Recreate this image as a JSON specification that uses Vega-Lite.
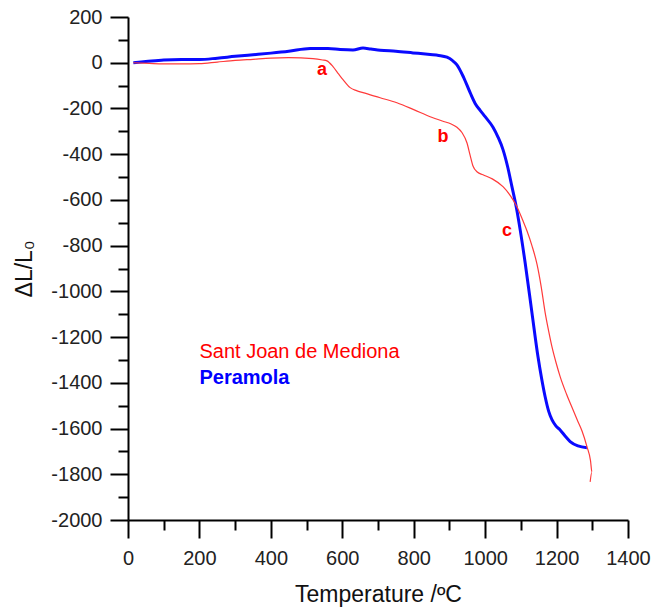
{
  "$schema": "https://vega.github.io/schema/vega-lite/v6.json",
  "width": 500,
  "height": 503,
  "autosize": {"type": "none"},
  "padding": {"left": 128, "top": 17, "right": 24, "bottom": 92},
  "background": "white",
  "config": {
    "view": {"stroke": null},
    "font": "Liberation Sans",
    "axis": {
      "grid": false,
      "domainColor": "black",
      "domainWidth": 2,
      "tickColor": "black",
      "tickWidth": 2,
      "labelFont": "Liberation Sans",
      "labelFontSize": 20,
      "labelColor": "#222222",
      "titleFont": "Liberation Sans",
      "titleFontSize": 23,
      "titleFontWeight": "normal",
      "titleColor": "#111111",
      "labelOverlap": false,
      "labelFlush": false
    }
  },
  "datasets": {
    "curves": [
      {"series": "Peramola", "i": 0, "T": 15, "dL": 0},
      {"series": "Peramola", "i": 1, "T": 50, "dL": 5},
      {"series": "Peramola", "i": 2, "T": 100, "dL": 12},
      {"series": "Peramola", "i": 3, "T": 150, "dL": 14},
      {"series": "Peramola", "i": 4, "T": 200, "dL": 14},
      {"series": "Peramola", "i": 5, "T": 250, "dL": 20},
      {"series": "Peramola", "i": 6, "T": 300, "dL": 28},
      {"series": "Peramola", "i": 7, "T": 350, "dL": 35},
      {"series": "Peramola", "i": 8, "T": 400, "dL": 42},
      {"series": "Peramola", "i": 9, "T": 450, "dL": 50},
      {"series": "Peramola", "i": 10, "T": 510, "dL": 62},
      {"series": "Peramola", "i": 11, "T": 560, "dL": 62},
      {"series": "Peramola", "i": 12, "T": 594, "dL": 58},
      {"series": "Peramola", "i": 13, "T": 630, "dL": 56},
      {"series": "Peramola", "i": 14, "T": 658, "dL": 64},
      {"series": "Peramola", "i": 15, "T": 680, "dL": 60},
      {"series": "Peramola", "i": 16, "T": 706, "dL": 55},
      {"series": "Peramola", "i": 17, "T": 750, "dL": 50},
      {"series": "Peramola", "i": 18, "T": 798, "dL": 43},
      {"series": "Peramola", "i": 19, "T": 846, "dL": 36},
      {"series": "Peramola", "i": 20, "T": 870, "dL": 32},
      {"series": "Peramola", "i": 21, "T": 893, "dL": 24},
      {"series": "Peramola", "i": 22, "T": 908, "dL": 10},
      {"series": "Peramola", "i": 23, "T": 921, "dL": -9},
      {"series": "Peramola", "i": 24, "T": 940, "dL": -65},
      {"series": "Peramola", "i": 25, "T": 958, "dL": -131},
      {"series": "Peramola", "i": 26, "T": 972, "dL": -178},
      {"series": "Peramola", "i": 27, "T": 986, "dL": -208},
      {"series": "Peramola", "i": 28, "T": 1000, "dL": -236},
      {"series": "Peramola", "i": 29, "T": 1022, "dL": -282},
      {"series": "Peramola", "i": 30, "T": 1036, "dL": -325},
      {"series": "Peramola", "i": 31, "T": 1050, "dL": -380},
      {"series": "Peramola", "i": 32, "T": 1063, "dL": -455},
      {"series": "Peramola", "i": 33, "T": 1075, "dL": -542},
      {"series": "Peramola", "i": 34, "T": 1087, "dL": -630},
      {"series": "Peramola", "i": 35, "T": 1098, "dL": -730},
      {"series": "Peramola", "i": 36, "T": 1112, "dL": -875},
      {"series": "Peramola", "i": 37, "T": 1131, "dL": -1093},
      {"series": "Peramola", "i": 38, "T": 1148, "dL": -1286},
      {"series": "Peramola", "i": 39, "T": 1158, "dL": -1380},
      {"series": "Peramola", "i": 40, "T": 1168, "dL": -1461},
      {"series": "Peramola", "i": 41, "T": 1178, "dL": -1525},
      {"series": "Peramola", "i": 42, "T": 1187, "dL": -1561},
      {"series": "Peramola", "i": 43, "T": 1198, "dL": -1588},
      {"series": "Peramola", "i": 44, "T": 1210, "dL": -1606},
      {"series": "Peramola", "i": 45, "T": 1225, "dL": -1635},
      {"series": "Peramola", "i": 46, "T": 1238, "dL": -1657},
      {"series": "Peramola", "i": 47, "T": 1260, "dL": -1676},
      {"series": "Peramola", "i": 48, "T": 1285, "dL": -1684},
      {"series": "Sant Joan de Mediona", "i": 0, "T": 15, "dL": 0},
      {"series": "Sant Joan de Mediona", "i": 1, "T": 60, "dL": -3},
      {"series": "Sant Joan de Mediona", "i": 2, "T": 100, "dL": -5},
      {"series": "Sant Joan de Mediona", "i": 3, "T": 150, "dL": -5},
      {"series": "Sant Joan de Mediona", "i": 4, "T": 200, "dL": -4},
      {"series": "Sant Joan de Mediona", "i": 5, "T": 250, "dL": 3},
      {"series": "Sant Joan de Mediona", "i": 6, "T": 300, "dL": 10},
      {"series": "Sant Joan de Mediona", "i": 7, "T": 350, "dL": 15},
      {"series": "Sant Joan de Mediona", "i": 8, "T": 400, "dL": 20},
      {"series": "Sant Joan de Mediona", "i": 9, "T": 450, "dL": 22},
      {"series": "Sant Joan de Mediona", "i": 10, "T": 518, "dL": 18},
      {"series": "Sant Joan de Mediona", "i": 11, "T": 545, "dL": 12},
      {"series": "Sant Joan de Mediona", "i": 12, "T": 557, "dL": 8},
      {"series": "Sant Joan de Mediona", "i": 13, "T": 574, "dL": -17},
      {"series": "Sant Joan de Mediona", "i": 14, "T": 590, "dL": -50},
      {"series": "Sant Joan de Mediona", "i": 15, "T": 602, "dL": -74},
      {"series": "Sant Joan de Mediona", "i": 16, "T": 622, "dL": -109},
      {"series": "Sant Joan de Mediona", "i": 17, "T": 640, "dL": -122},
      {"series": "Sant Joan de Mediona", "i": 18, "T": 658, "dL": -131},
      {"series": "Sant Joan de Mediona", "i": 19, "T": 706, "dL": -153},
      {"series": "Sant Joan de Mediona", "i": 20, "T": 753, "dL": -175},
      {"series": "Sant Joan de Mediona", "i": 21, "T": 800, "dL": -205},
      {"series": "Sant Joan de Mediona", "i": 22, "T": 846, "dL": -236},
      {"series": "Sant Joan de Mediona", "i": 23, "T": 880, "dL": -255},
      {"series": "Sant Joan de Mediona", "i": 24, "T": 905, "dL": -268},
      {"series": "Sant Joan de Mediona", "i": 25, "T": 921, "dL": -282},
      {"series": "Sant Joan de Mediona", "i": 26, "T": 935, "dL": -305},
      {"series": "Sant Joan de Mediona", "i": 27, "T": 949, "dL": -350},
      {"series": "Sant Joan de Mediona", "i": 28, "T": 958, "dL": -405},
      {"series": "Sant Joan de Mediona", "i": 29, "T": 966, "dL": -452},
      {"series": "Sant Joan de Mediona", "i": 30, "T": 978, "dL": -478},
      {"series": "Sant Joan de Mediona", "i": 31, "T": 994, "dL": -490},
      {"series": "Sant Joan de Mediona", "i": 32, "T": 1020, "dL": -508},
      {"series": "Sant Joan de Mediona", "i": 33, "T": 1050, "dL": -542},
      {"series": "Sant Joan de Mediona", "i": 34, "T": 1070, "dL": -580},
      {"series": "Sant Joan de Mediona", "i": 35, "T": 1089, "dL": -630},
      {"series": "Sant Joan de Mediona", "i": 36, "T": 1105, "dL": -688},
      {"series": "Sant Joan de Mediona", "i": 37, "T": 1117, "dL": -735},
      {"series": "Sant Joan de Mediona", "i": 38, "T": 1131, "dL": -800},
      {"series": "Sant Joan de Mediona", "i": 39, "T": 1145, "dL": -880},
      {"series": "Sant Joan de Mediona", "i": 40, "T": 1157, "dL": -980},
      {"series": "Sant Joan de Mediona", "i": 41, "T": 1168, "dL": -1093},
      {"series": "Sant Joan de Mediona", "i": 42, "T": 1178, "dL": -1175},
      {"series": "Sant Joan de Mediona", "i": 43, "T": 1187, "dL": -1242},
      {"series": "Sant Joan de Mediona", "i": 44, "T": 1200, "dL": -1320},
      {"series": "Sant Joan de Mediona", "i": 45, "T": 1210, "dL": -1373},
      {"series": "Sant Joan de Mediona", "i": 46, "T": 1228, "dL": -1450},
      {"series": "Sant Joan de Mediona", "i": 47, "T": 1246, "dL": -1518},
      {"series": "Sant Joan de Mediona", "i": 48, "T": 1260, "dL": -1570},
      {"series": "Sant Joan de Mediona", "i": 49, "T": 1271, "dL": -1610},
      {"series": "Sant Joan de Mediona", "i": 50, "T": 1285, "dL": -1679},
      {"series": "Sant Joan de Mediona", "i": 51, "T": 1295, "dL": -1740},
      {"series": "Sant Joan de Mediona", "i": 52, "T": 1299, "dL": -1790},
      {"series": "Sant Joan de Mediona", "i": 53, "T": 1294, "dL": -1833}
    ],
    "labels": [
      {"kind": "note", "series": "Sant Joan de Mediona", "text": "a", "T": 543, "dL": -31},
      {"kind": "note", "series": "Sant Joan de Mediona", "text": "b", "T": 882, "dL": -324},
      {"kind": "note", "series": "Sant Joan de Mediona", "text": "c", "T": 1061, "dL": -735},
      {"kind": "legend", "series": "Sant Joan de Mediona", "text": "Sant Joan de Mediona", "T": 200, "dL": -1264},
      {"kind": "legendbold", "series": "Peramola", "text": "Peramola", "T": 200, "dL": -1378}
    ]
  },
  "encoding": {
    "x": {
      "field": "T",
      "type": "quantitative",
      "scale": {"domain": [0, 1400], "nice": false, "zero": false},
      "axis": {
        "title": "Temperature /ºC",
        "values": [0, 100, 200, 300, 400, 500, 600, 700, 800, 900, 1000, 1100, 1200, 1300, 1400],
        "labelExpr": "datum.value % 200 === 0 ? toString(datum.value) : ''",
        "tickSize": {"condition": {"test": "datum.value % 200 === 0", "value": 18}, "value": 10},
        "labelPadding": 10,
        "titlePadding": 15
      }
    },
    "y": {
      "field": "dL",
      "type": "quantitative",
      "scale": {"domain": [-2000, 200], "nice": false, "zero": false},
      "axis": {
        "title": "ΔL/L₀",
        "values": [-2000, -1900, -1800, -1700, -1600, -1500, -1400, -1300, -1200, -1100, -1000, -900, -800, -700, -600, -500, -400, -300, -200, -100, 0, 100, 200],
        "labelExpr": "datum.value % 200 === 0 ? toString(datum.value) : ''",
        "tickSize": {"condition": {"test": "datum.value % 200 === 0", "value": 18}, "value": 10},
        "labelPadding": 8,
        "titlePadding": 14
      }
    }
  },
  "layer": [
    {
      "data": {"name": "curves"},
      "mark": {"type": "line", "interpolate": "monotone"},
      "encoding": {
        "order": {"field": "i", "type": "quantitative"},
        "detail": {"field": "series"},
        "color": {
          "field": "series",
          "type": "nominal",
          "scale": {"domain": ["Sant Joan de Mediona", "Peramola"], "range": ["#ff3a3a", "#0a0aff"]},
          "legend": null
        },
        "strokeWidth": {
          "field": "series",
          "type": "nominal",
          "scale": {"domain": ["Sant Joan de Mediona", "Peramola"], "range": [1.2, 3]},
          "legend": null
        }
      }
    },
    {
      "data": {"name": "labels"},
      "transform": [{"filter": "datum.kind === 'note'"}],
      "mark": {"type": "text", "font": "Liberation Sans", "fontSize": 18, "fontWeight": "bold", "align": "center", "baseline": "middle", "color": "#ff0000"},
      "encoding": {"text": {"field": "text"}}
    },
    {
      "data": {"name": "labels"},
      "transform": [{"filter": "datum.kind === 'legend'"}],
      "mark": {"type": "text", "font": "Liberation Sans", "fontSize": 20, "align": "left", "baseline": "middle", "color": "#ff0000"},
      "encoding": {"text": {"field": "text"}}
    },
    {
      "data": {"name": "labels"},
      "transform": [{"filter": "datum.kind === 'legendbold'"}],
      "mark": {"type": "text", "font": "Liberation Sans", "fontSize": 20, "fontWeight": "bold", "align": "left", "baseline": "middle", "color": "#0000ff"},
      "encoding": {"text": {"field": "text"}}
    }
  ]
}
